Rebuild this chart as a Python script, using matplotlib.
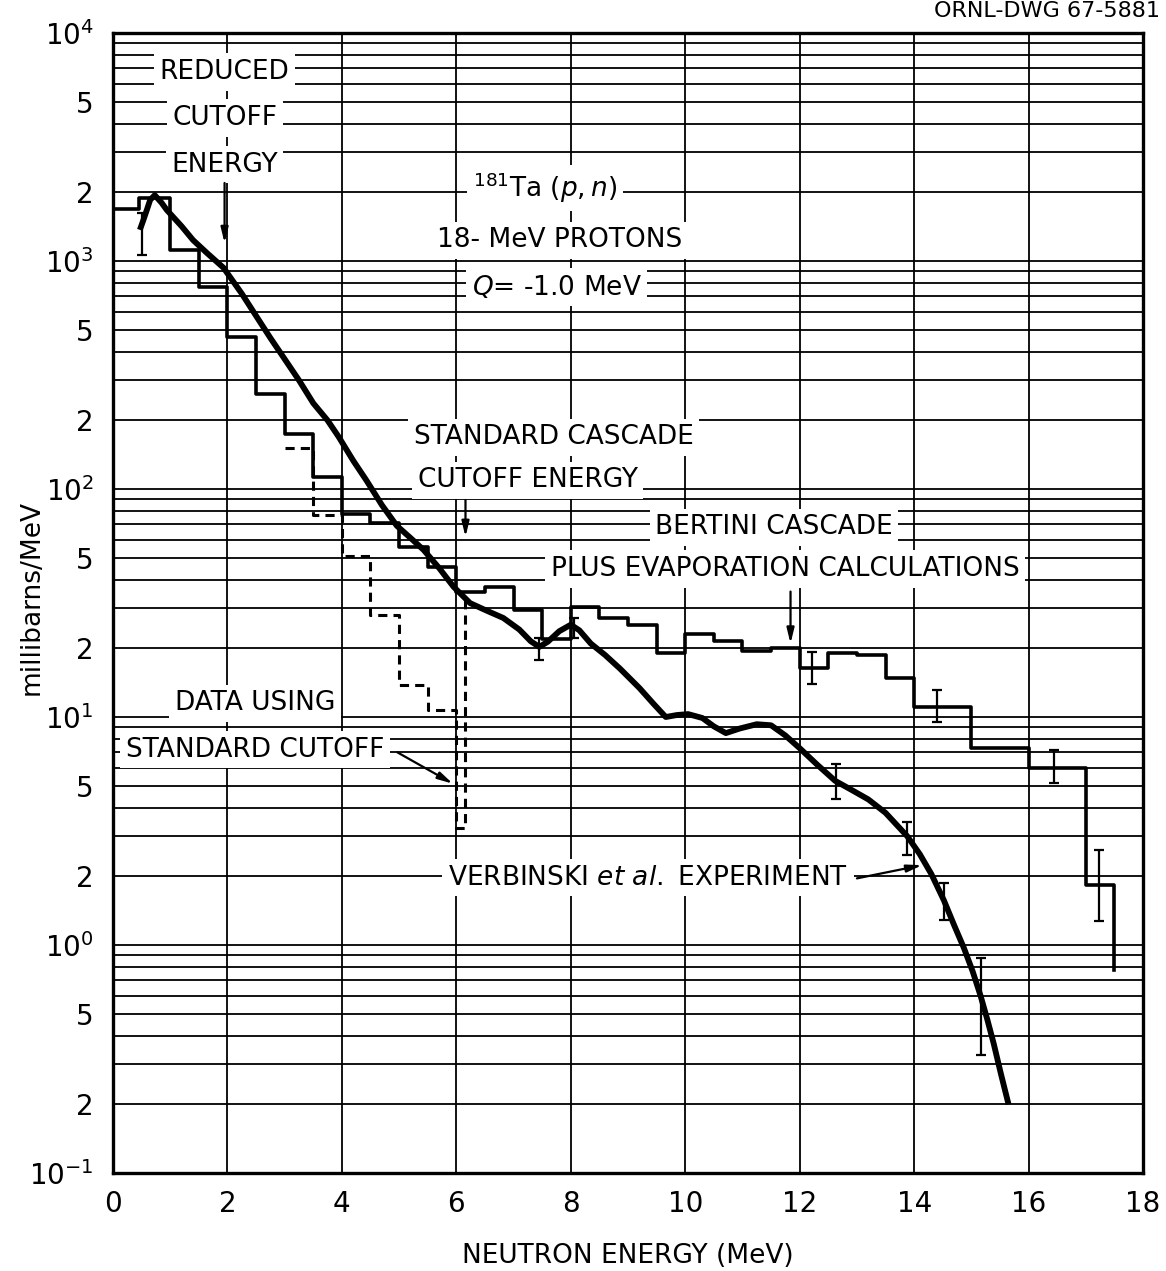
import matplotlib
matplotlib.use('Agg')
import matplotlib.pyplot as plt
from matplotlib.ticker import FixedLocator, LogLocator, NullFormatter

# ---------------- DATA ----------------
# Bertini cascade + evaporation, reduced cutoff (mb/MeV per bin)
bertini_edges = [0, 0.45, 1.0, 1.5, 2.0, 2.5, 3.0, 3.5, 4.0, 4.5, 5.0, 5.5, 6.0,
                 6.5, 7.0, 7.5, 8.0, 8.5, 9.0, 9.5, 10.0, 10.5, 11.0, 11.5, 12.0,
                 12.5, 13.0, 13.5, 14.0, 14.5, 15.0, 15.5, 16.0, 16.5, 17.0, 17.5]
bertini_vals = [1690, 1885, 1117, 771, 465, 261, 174, 113, 78, 71, 55.8, 45.6,
                35.5, 37, 29.4, 22, 30.3, 27.2, 25.3, 19, 23.1, 21.6, 19.4, 20,
                16.4, 19.1, 18.7, 14.8, 11.1, 11.1, 7.35, 7.35, 6.0, 6.0, 1.83]
bertini_end = 0.78

# data using standard cutoff (dashed)
std_edges = [3.0, 3.5, 4.0, 4.5, 5.0, 5.5, 6.0, 6.15]
std_vals = [151, 77, 51, 28, 13.8, 10.7, 3.26]
std_end = 32.6

# Verbinski et al. experiment
exp_e = [0.47, 0.53, 0.60, 0.65, 0.73, 0.85, 0.94, 1.2, 1.4, 1.65, 1.93, 2.25,
         2.51, 2.75, 2.98, 3.25, 3.5, 3.75, 3.94, 4.2, 4.43, 4.7, 4.96, 5.2,
         5.43, 5.7, 5.95, 6.24, 6.5, 6.82, 7.1, 7.3, 7.45, 7.6, 7.8, 8.0, 8.15,
         8.35, 8.6, 8.86, 9.2, 9.45, 9.66, 9.85, 10.05, 10.3, 10.5, 10.71,
         10.95, 11.25, 11.5, 11.75, 12.0, 12.3, 12.62, 12.9, 13.2, 13.5, 13.88,
         14.1, 14.3, 14.52, 14.7, 14.87, 15.02, 15.16, 15.28, 15.39, 15.52, 15.65]
exp_v = [1370, 1510, 1700, 1855, 1945, 1800, 1675, 1420, 1235, 1080, 935, 720,
         570, 460, 378, 300, 238, 200, 170, 133, 109, 85, 69, 61,
         54, 45, 37.3, 31.6, 29.5, 27.2, 24.2, 21.5, 20.3, 21.4, 23.8, 25.4, 24,
         21, 18.7, 16.3, 13.4, 11.4, 10.0, 10.2, 10.3, 9.9, 9.1, 8.5,
         8.9, 9.3, 9.2, 8.3, 7.3, 6.2, 5.25, 4.8, 4.35, 3.8, 3.0,
         2.5, 2.05, 1.57, 1.22, 0.97, 0.77, 0.60, 0.47, 0.37, 0.27, 0.20]

# error bars: energy, low, high
err_e = [0.5, 7.45, 8.05, 12.21, 12.64, 13.87, 14.4, 14.52, 15.16, 16.44, 17.23]
err_lo = [1062, 17.8, 22.2, 14.0, 4.35, 2.48, 9.5, 1.29, 0.33, 5.14, 1.27]
err_hi = [1620, 22.2, 27.2, 19.3, 6.2, 3.48, 13.2, 1.87, 0.875, 7.2, 2.61]

ytick_vals = [1e-1, 2e-1, 5e-1, 1, 2, 5, 10, 20, 50, 100, 200, 500,
              1e3, 2e3, 5e3, 1e4]
ytick_labels = ['$10^{-1}$', '2', '5', '$10^{0}$', '2', '5', '$10^{1}$', '2', '5',
                '$10^{2}$', '2', '5', '$10^{3}$', '2', '5', '$10^{4}$']
xtick_vals = [0, 2, 4, 6, 8, 10, 12, 14, 16, 18]
xtick_labels = ['0', '2', '4', '6', '8', '10', '12', '14', '16', '18']

# ---------------- FIGURE ----------------
plt.rcParams['font.family'] = ['DejaVu Sans']
fig = plt.figure(figsize=(11.66, 12.71), dpi=100)
ax = fig.add_axes([0.0969, 0.0771, 0.8834, 0.8969])
ax.set_yscale('log')
ax.set_xlim(0, 18)
ax.set_ylim(1e-1, 1e4)

ax.yaxis.set_major_locator(FixedLocator(ytick_vals))
ax.set_yticklabels(ytick_labels)
ax.yaxis.set_minor_locator(LogLocator(base=10, subs=range(1, 10), numticks=50))
ax.yaxis.set_minor_formatter(NullFormatter())
ax.set_xticks(xtick_vals)
ax.set_xticklabels(xtick_labels)
ax.tick_params(which='both', length=0, labelsize=20)
ax.tick_params(axis='y', pad=14)
ax.tick_params(axis='x', pad=12)

ax.set_axisbelow(True)
ax.grid(True, which='both', axis='y', color='black', lw=1.3)
ax.grid(True, which='major', axis='x', color='black', lw=1.3)
for s in ax.spines.values():
    s.set_linewidth(2.4)

# calculations
ax.plot(bertini_edges, bertini_vals + [bertini_end], drawstyle='steps-post',
        color='black', lw=2.6, zorder=4)
ax.plot(std_edges, std_vals + [std_end], drawstyle='steps-post',
        color='black', lw=2.2, ls=(0, (3, 2)), zorder=4)
# experiment
ax.plot(exp_e, exp_v, color='black', lw=4.2, solid_capstyle='butt',
        solid_joinstyle='round', zorder=5)
mid = [(a * b) ** 0.5 for a, b in zip(err_lo, err_hi)]
lo = [m - l for m, l in zip(mid, err_lo)]
hi = [h - m for h, m in zip(err_hi, mid)]
ax.errorbar(err_e, mid, yerr=[lo, hi], fmt='none', ecolor='black',
            elinewidth=1.6, capsize=3.5, capthick=1.6, zorder=5)

# ---------------- LABELS ----------------
box = dict(facecolor='white', edgecolor='none', pad=4)
fs = 19
def label(x, y, s, **kw):
    ax.text(x, y, s, ha='center', va='center', fontsize=fs, bbox=box,
            zorder=3, **kw)

label(1.95, 6750, 'REDUCED')
label(1.95, 4240, 'CUTOFF')
label(1.95, 2640, 'ENERGY')
label(7.55, 2090, r'$^{181}$Ta $(p,n)$')
label(7.8, 1235, '18- MeV PROTONS')
label(7.75, 769, r'$Q$= -1.0 MeV')
label(7.7, 169, 'STANDARD CASCADE')
label(7.25, 109, 'CUTOFF ENERGY')
label(11.55, 68, 'BERTINI CASCADE')
label(11.75, 44.6, 'PLUS EVAPORATION CALCULATIONS')
label(2.48, 11.5, 'DATA USING')
label(2.48, 7.2, 'STANDARD CUTOFF')
label(9.35, 1.97, r'VERBINSKI $et\ al.$ EXPERIMENT')

arw = dict(arrowstyle='-|>,head_length=0.9,head_width=0.22', color='black',
           lw=1.6, shrinkA=0, shrinkB=0)
ax.annotate('', xy=(1.95, 1200), xytext=(1.95, 2200), arrowprops=arw, zorder=6)
ax.annotate('', xy=(6.16, 61.7), xytext=(6.16, 89.5), arrowprops=arw, zorder=6)
ax.annotate('', xy=(11.84, 21), xytext=(11.84, 35.5), arrowprops=arw, zorder=6)
ax.annotate('', xy=(5.94, 5.1), xytext=(4.97, 7.0), arrowprops=arw, zorder=6)
ax.annotate('', xy=(14.14, 2.24), xytext=(13.0, 1.96), arrowprops=arw, zorder=6)

ax.set_xlabel('NEUTRON ENERGY (MeV)', fontsize=19, labelpad=18)
fig.text(0.027, 0.53, 'millibarns/MeV', rotation=90, ha='center', va='center',
         fontsize=19)
fig.text(0.995, 0.999, 'ORNL-DWG 67-5881', ha='right', va='top', fontsize=16)

fig.savefig('out.png', dpi=100)
